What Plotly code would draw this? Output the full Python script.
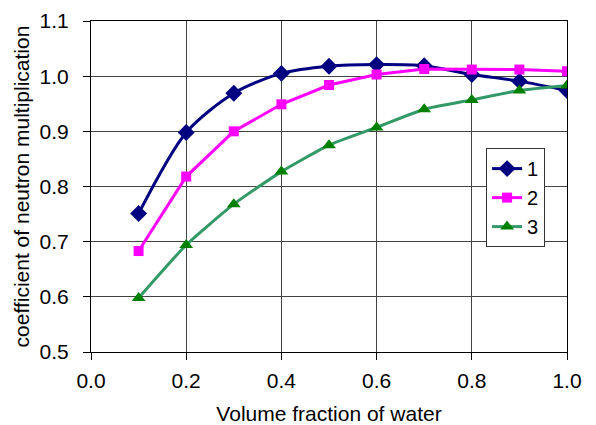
import plotly.graph_objects as go

x_vals = [0.1, 0.2, 0.3, 0.4, 0.5, 0.6, 0.7, 0.8, 0.9, 1.0]
series1 = [0.751, 0.898, 0.969, 1.005, 1.018, 1.021, 1.019, 1.003, 0.991, 0.974]
series2 = [0.683, 0.818, 0.900, 0.949, 0.984, 1.003, 1.013, 1.012, 1.012, 1.009]
series3 = [0.598, 0.694, 0.768, 0.827, 0.875, 0.907, 0.940, 0.957, 0.974, 0.983]
names = ["1", "2", "3"]

fnt = "Liberation Sans, Arial, sans-serif"
fig = go.Figure()
fig.add_trace(go.Scatter(x=x_vals, y=series1, name=names[0], mode="lines+markers",
                         line=dict(color="#000080", width=3, shape="spline", smoothing=0.8),
                         marker=dict(symbol="diamond", size=13, color="#000080")))
fig.add_trace(go.Scatter(x=x_vals, y=series2, name=names[1], mode="lines+markers",
                         line=dict(color="#FF00FF", width=3),
                         marker=dict(symbol="square", size=10, color="#FF00FF")))
fig.add_trace(go.Scatter(x=x_vals, y=series3, name=names[2], mode="lines+markers",
                         line=dict(color="#339966", width=3, shape="spline", smoothing=0.5),
                         marker=dict(symbol="triangle-up", size=12, color="#008000")))

fig.update_layout(
    width=596, height=425,
    margin=dict(l=91, r=29, t=21, b=73),
    paper_bgcolor="white", plot_bgcolor="white",
    font=dict(family=fnt, size=21, color="black"),
    legend=dict(x=0.83, y=0.616, xanchor="left", yanchor="top",
                bordercolor="#333333", borderwidth=1, bgcolor="white",
                font=dict(size=20), tracegroupgap=0),
    xaxis=dict(range=[0, 1.0], dtick=0.2, tickformat=".1f", automargin=False,
               showgrid=True, gridcolor="#444444", gridwidth=1,
               showline=True, linecolor="black", linewidth=1, mirror=True,
               ticks="outside", ticklen=7, tickcolor="black",
               tickfont=dict(size=21), ticklabelstandoff=3,
               title=dict(text="Volume fraction of water", font=dict(size=21), standoff=17),
               zeroline=False),
    yaxis=dict(range=[0.5, 1.1], dtick=0.1, tickformat=".1f", automargin=False,
               showgrid=True, gridcolor="#444444", gridwidth=1,
               showline=True, linecolor="black", linewidth=1, mirror=True,
               ticks="outside", ticklen=7, tickcolor="black",
               tickfont=dict(size=21), ticklabelstandoff=10,
               title=dict(text="coefficient of neutron multiplication", font=dict(size=21), standoff=4),
               zeroline=False),
)
fig.write_html("out.html")
